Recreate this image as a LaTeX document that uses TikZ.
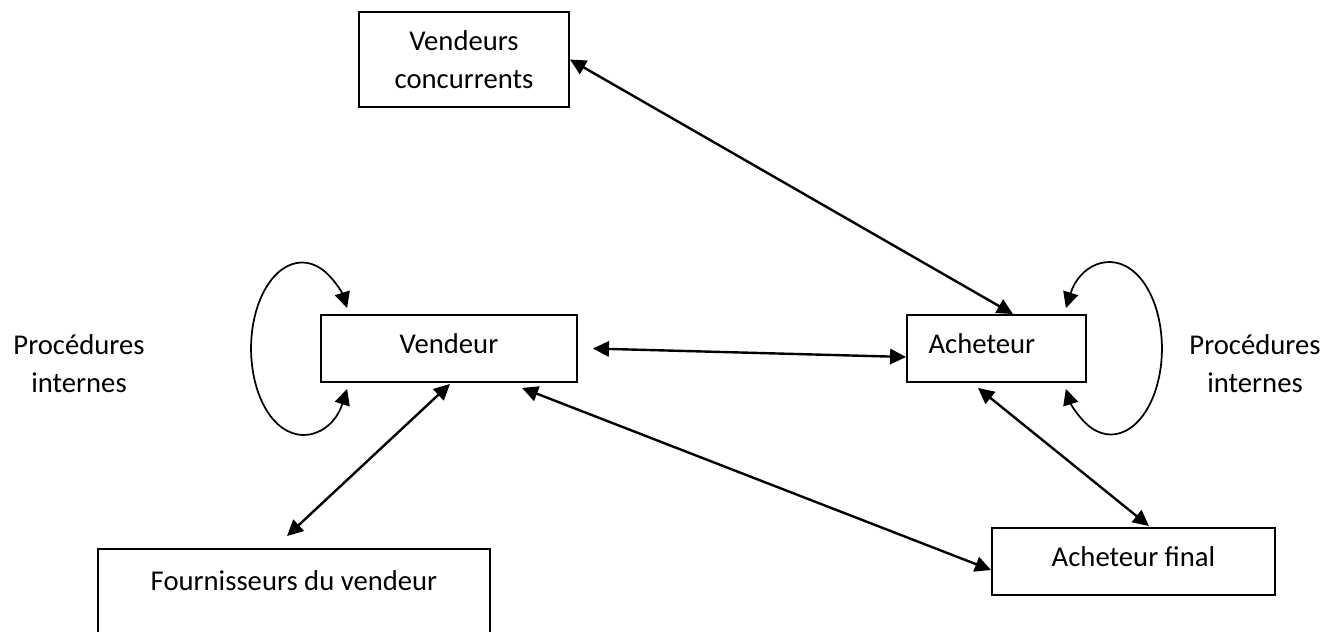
\documentclass[tikz,border=0pt]{standalone}
\usepackage{fontspec}
\setmainfont{Carlito}
\usepackage{tikz}
\usetikzlibrary{calc}
\usetikzlibrary{arrows.meta}
\newcommand{\pxu}{0.75pt}
\newcommand{\txtfont}{\fontsize{21.5}{28.5}\selectfont}
\tikzset{boxnode/.style={rectangle, draw, line width=1.4pt, inner sep=0pt, align=center, font=\txtfont}}
\tikzset{onelinebox/.style={boxnode, text height=15pt, text depth=8.25pt}}
\tikzset{plaintxt/.style={draw=none, fill=none, inner sep=0pt, align=center, font=\txtfont}}
\tikzset{dblarrow/.style={line width=1.8pt, {Triangle[length=12pt,width=11.5pt]}-{Triangle[length=12pt,width=11.5pt]}}}
\tikzset{looparrow/.style={line width=1.3pt, {Triangle[length=12pt,width=11.5pt]}-{Triangle[length=12pt,width=11.5pt]}}}

\begin{document}
\begin{tikzpicture}[x=\pxu, y=-\pxu]
\useasboundingbox (0,0) rectangle (1340,632);

\node[boxnode, minimum width=210*\pxu, minimum height=95*\pxu] (conc) at (464,59.5) {Vendeurs\\concurrents};
\node[onelinebox, minimum width=256*\pxu, minimum height=67*\pxu] (vend) at (449,348.5) {Vendeur};
\node[onelinebox, minimum width=179*\pxu, minimum height=67*\pxu] (ach) at (996.5,348.5) {Acheteur\hspace*{22pt}};
\node[onelinebox, minimum width=283*\pxu, minimum height=67*\pxu] (final) at (1133.5,561.5) {Acheteur final};
\node[boxnode, minimum width=392*\pxu, minimum height=95*\pxu, text height=15pt, text depth=24.75pt] (fourn) at (294,596.5) {Fournisseurs du vendeur};

\node[plaintxt] (procg) at (79,364) {Procédures\\internes};
\node[plaintxt] (procd) at (1255,364) {Procédures\\internes};

% liens entre acteurs
\draw[dblarrow] (conc.east) -- ($(ach.north)+(16.5,0)$);
\draw[dblarrow] ($(vend.east)+(15,0)$) -- ($(ach.west)+(0,8.5)$);
\draw[dblarrow] ($(vend.south)+(1,1)$) -- ($(fourn.north)+(-7,-12)$);
\draw[dblarrow] ($(vend.south)+(73,5)$) -- ($(final.west)+(0,8.5)$);
\draw[dblarrow] ($(ach.south)+(-18.5,5)$) -- ($(final.north)+(15.5,-1)$);

% procedures internes
\coordinate (lcen) at ($(vend.west)+(-18,0)$);
\draw[looparrow] ($(lcen)+(28:51 and 86)$) arc[start angle=28, end angle=332, x radius=51, y radius=86];
\coordinate (rcen) at ($(ach.east)+(24,0)$);
\draw[looparrow] ($(rcen)+(-152:51 and 86)$) arc[start angle=-152, end angle=152, x radius=51, y radius=86];
\end{tikzpicture}
\end{document}
